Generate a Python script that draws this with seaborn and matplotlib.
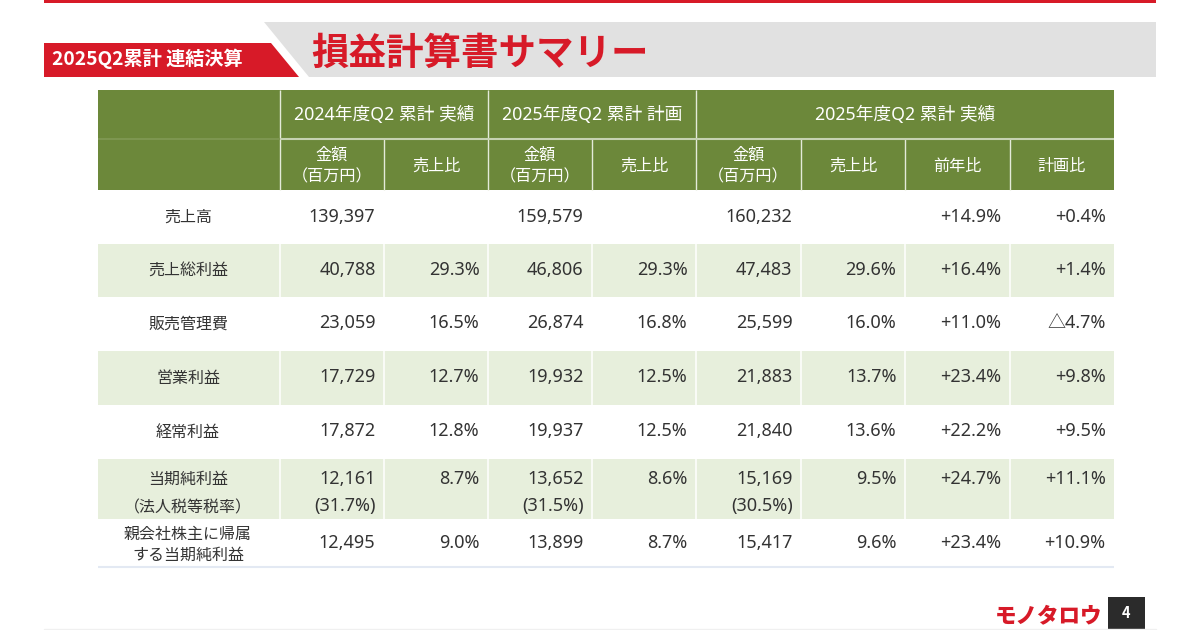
import matplotlib
matplotlib.use('Agg')
import matplotlib.pyplot as plt
from matplotlib.colors import ListedColormap
from matplotlib.patches import Polygon, Rectangle
import numpy as np
import seaborn as sns

sns.set_theme(style="white")
plt.rcParams['font.family'] = ['Noto Sans', 'Noto Sans CJK JP', 'DejaVu Sans']
BOLD_FAMILY = ['Noto Sans CJK JP', 'DejaVu Sans']

W, H = 1200, 630
RED = "#d71a28"
OLIVE = "#6c883a"
LIGHT = "#e7efdc"
TEXT = "#333333"

row_labels = ["売上高", "売上総利益", "販売管理費", "営業利益", "経常利益",
              "当期純利益\n（法人税等税率）", "親会社株主に帰属\nする当期純利益"]
amount_2024 = ["139,397", "40,788", "23,059", "17,729", "17,872", "12,161", "12,495"]
ratio_2024 = ["", "29.3%", "16.5%", "12.7%", "12.8%", "8.7%", "9.0%"]
amount_plan = ["159,579", "46,806", "26,874", "19,932", "19,937", "13,652", "13,899"]
ratio_plan = ["", "29.3%", "16.8%", "12.5%", "12.5%", "8.6%", "8.7%"]
amount_2025 = ["160,232", "47,483", "25,599", "21,883", "21,840", "15,169", "15,417"]
ratio_2025 = ["", "29.6%", "16.0%", "13.7%", "13.6%", "9.5%", "9.6%"]
yoy = ["+14.9%", "+16.4%", "+11.0%", "+23.4%", "+22.2%", "+24.7%", "+23.4%"]
vs_plan = ["+0.4%", "+1.4%", "△4.7%", "+9.8%", "+9.5%", "+11.1%", "+10.9%"]
tax_rates = ["(31.7%)", "(31.5%)", "(30.5%)"]

group_headers = ["2024年度Q2 累計 実績", "2025年度Q2 累計 計画", "2025年度Q2 累計 実績"]
sub_headers = ["金額\n（百万円）", "売上比", "金額\n（百万円）", "売上比",
               "金額\n（百万円）", "売上比", "前年比", "計画比"]

# table grid in pixels, the heatmap gets one cell per pixel
col_widths = [182, 104, 104, 104, 104, 105, 104, 105, 104]
row_heights = [49, 51, 54, 53, 54, 54, 54, 60, 48]
row_band = [2, 2, 0, 1, 0, 1, 0, 1, 0]

x_edges = np.cumsum([0] + col_widths)
y_edges = np.cumsum([0] + row_heights)
band = np.repeat(np.repeat(row_band, row_heights)[:, None], sum(col_widths), axis=1)

fig = plt.figure(figsize=(W / 100, H / 100), dpi=100, facecolor="white")

# slide decoration, in pixel coordinates
deco = fig.add_axes([0, 0, 1, 1])
deco.set_xlim(0, W)
deco.set_ylim(H, 0)
deco.axis("off")
deco.add_patch(Rectangle((44, 0), 1112, 2.5, color=RED, lw=0))
deco.add_patch(Polygon([(264, 22), (1156, 22), (1156, 77), (309, 77)], color="#e1e1e1", lw=0))
deco.add_patch(Polygon([(44, 43), (271, 43), (299, 77), (44, 77)], color=RED, lw=0))
deco.text(52, 58.5, "2025Q2累計 連結決算", color="white", fontsize=13.8, fontweight="bold",
          family=BOLD_FAMILY, va="center")
deco.text(311, 53, "損益計算書サマリー", color=RED, fontsize=27, fontweight="bold",
          family=BOLD_FAMILY, va="center")
deco.plot([44, 1156], [628.5, 628.5], color="#f0f0f0", lw=1)
deco.text(1049, 616, "モノタロウ", color=RED, fontsize=15.5, fontweight="black",
          family=BOLD_FAMILY, ha="center", va="center")
deco.add_patch(Rectangle((1108, 597), 37, 33, color="#2b2b2b", lw=0))
deco.text(1126.5, 613, "4", color="white", fontsize=10.5, fontweight="bold",
          family=BOLD_FAMILY, ha="center", va="center")

# table body
ax = fig.add_axes([98 / W, (H - 567) / H, 1016 / W, 477 / H])
ax.patch.set_alpha(0)
sns.heatmap(band, ax=ax, cmap=ListedColormap(["white", LIGHT, OLIVE]), vmin=0, vmax=2,
            cbar=False, xticklabels=False, yticklabels=False)

# separators
for i, x in enumerate(x_edges[1:-1], start=1):
    top = 0 if i in (1, 3, 5) else y_edges[1]
    ax.vlines(x, top, y_edges[2], color="#e4ead9", lw=1)
    for r in (3, 5, 7):
        ax.vlines(x, y_edges[r], y_edges[r + 1], color="white", lw=1.1)
ax.hlines(y_edges[1], 0, x_edges[1], color="#7d9650", lw=1.5)
ax.hlines(y_edges[1], x_edges[1], x_edges[-1], color="#c6d2b2", lw=1.5)
ax.hlines(y_edges[-1], 0, x_edges[-1], color="#e3e9f3", lw=1.5, clip_on=False)

# header text
spans = [(1, 3), (3, 5), (5, 9)]
for label, (a, b) in zip(group_headers, spans):
    ax.text((x_edges[a] + x_edges[b]) / 2, 25, label, color="white", fontsize=12.8,
            ha="center", va="center")
for i, label in enumerate(sub_headers, start=1):
    ax.text((x_edges[i] + x_edges[i + 1]) / 2, 76.5, label, color="white", fontsize=11.6,
            ha="center", va="center", linespacing=1.45)

# body text
columns = [amount_2024, ratio_2024, amount_plan, ratio_plan, amount_2025, ratio_2025, yoy, vs_plan]
for r, label in enumerate(row_labels):
    y0, y1 = y_edges[r + 2], y_edges[r + 3]
    yc = (y0 + y1) / 2 - 0.5
    if r == 5:
        yc = y0 + 19.5
    label_y = (y0 + y1) / 2 + (5 if r == 5 else 2.5 if "\n" in label else 1)
    ax.text(90, label_y, label, color=TEXT, fontsize=11.5, ha="center", va="center",
            linespacing=2.08 if r == 5 else 1.4)
    for c, values in enumerate(columns, start=1):
        ax.text(x_edges[c + 1] - 8.5, yc, values[r], color=TEXT, fontsize=13, ha="right", va="center")

for c, rate in zip((1, 3, 5), tax_rates):
    ax.text(x_edges[c + 1] - 8.5, y_edges[7] + 47.5, rate, color=TEXT, fontsize=13, ha="right", va="center")

fig.savefig("out.png", dpi=100)
